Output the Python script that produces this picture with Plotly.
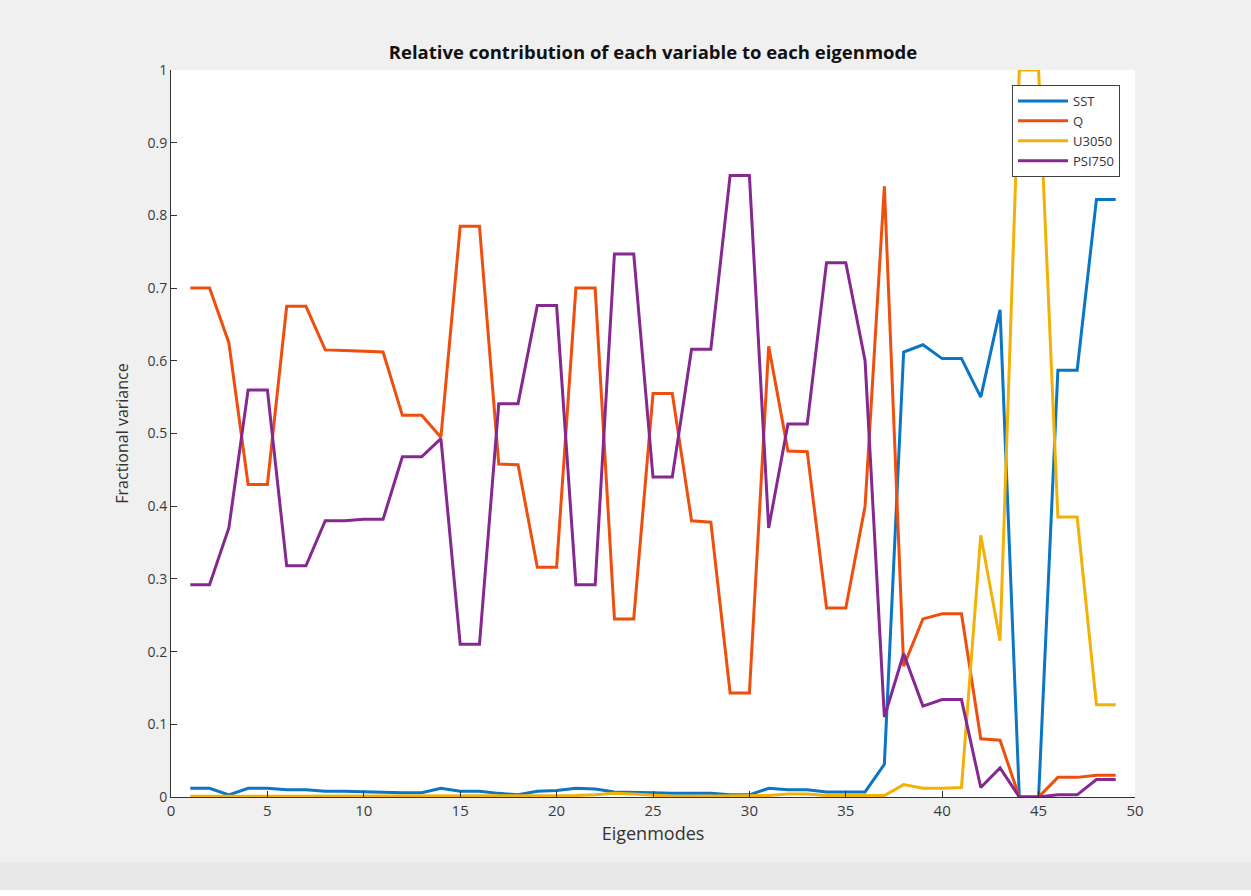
import plotly.graph_objects as go

# Eigenmode index
modes = list(range(1, 50))

# Fractional variance carried by each variable in each eigenmode
sst = [0.012, 0.012, 0.003, 0.012, 0.012, 0.010, 0.010, 0.008, 0.008, 0.007,
       0.006, 0.006, 0.006, 0.012, 0.008, 0.008, 0.005, 0.003, 0.008, 0.009,
       0.012, 0.011, 0.007, 0.007, 0.006, 0.005, 0.005, 0.005, 0.003, 0.003,
       0.012, 0.010, 0.010, 0.007, 0.007, 0.007, 0.045, 0.612, 0.622, 0.603,
       0.603, 0.550, 0.670, 0.000, 0.000, 0.587, 0.587, 0.822, 0.822]

q = [0.700, 0.700, 0.625, 0.430, 0.430, 0.675, 0.675, 0.615, 0.614, 0.613,
     0.612, 0.525, 0.525, 0.495, 0.785, 0.785, 0.458, 0.457, 0.316, 0.316,
     0.700, 0.700, 0.245, 0.245, 0.555, 0.555, 0.380, 0.378, 0.143, 0.143,
     0.620, 0.476, 0.475, 0.260, 0.260, 0.400, 0.840, 0.180, 0.245, 0.252,
     0.252, 0.080, 0.078, 0.000, 0.000, 0.027, 0.027, 0.030, 0.030]

u3050 = [0.001, 0.001, 0.001, 0.001, 0.001, 0.001, 0.001, 0.001, 0.001, 0.001,
         0.001, 0.001, 0.001, 0.001, 0.001, 0.001, 0.001, 0.001, 0.001, 0.001,
         0.002, 0.003, 0.005, 0.004, 0.002, 0.001, 0.001, 0.001, 0.001, 0.001,
         0.002, 0.004, 0.004, 0.002, 0.002, 0.002, 0.002, 0.017, 0.012, 0.012,
         0.013, 0.360, 0.215, 1.000, 1.000, 0.385, 0.385, 0.127, 0.127]

psi750 = [0.292, 0.292, 0.370, 0.560, 0.560, 0.318, 0.318, 0.380, 0.380, 0.382,
          0.382, 0.468, 0.468, 0.493, 0.210, 0.210, 0.541, 0.541, 0.676, 0.676,
          0.292, 0.292, 0.747, 0.747, 0.440, 0.440, 0.616, 0.616, 0.855, 0.855,
          0.370, 0.513, 0.513, 0.735, 0.735, 0.600, 0.110, 0.197, 0.125, 0.134,
          0.134, 0.013, 0.040, 0.000, 0.000, 0.003, 0.003, 0.024, 0.024]

series = [
    ("SST", sst, "#0A76C4"),
    ("Q", q, "#EE4E0E"),
    ("U3050", u3050, "#F2B106"),
    ("PSI750", psi750, "#85288F"),
]

x_ticks = list(range(0, 51, 5))
y_ticks = [round(0.1 * i, 1) for i in range(11)]
y_labels = ["0"] + [f"{v:g}" for v in y_ticks[1:-1]] + ["1"]

fig = go.Figure()
for name, vals, color in series:
    fig.add_trace(go.Scatter(
        x=modes, y=vals, name=name, mode="lines",
        line=dict(color=color, width=3),
    ))

font_family = "Open Sans, Noto Sans, DejaVu Sans, sans-serif"

fig.update_layout(
    width=1251, height=896,
    margin=dict(l=171, r=116, t=70, b=99),
    paper_bgcolor="#f0f0f0",
    plot_bgcolor="#ffffff",
    font=dict(family=font_family, size=14, color="#333333"),
    title=dict(
        text="<b>Relative contribution of each variable to each eigenmode</b>",
        x=(171 + 1135) / 2 / 1251, xanchor="center",
        y=1 - 53 / 896, yanchor="middle",
        font=dict(size=18.5, color="#111111"),
    ),
    xaxis=dict(
        range=[0, 50], tickvals=x_ticks, ticktext=[str(t) for t in x_ticks],
        showgrid=False, zeroline=False,
        showline=True, linecolor="#333333", linewidth=1,
        ticks="inside", ticklen=6, tickcolor="#333333",
        tickfont=dict(size=15, color="#3a3a3a"),
        title=dict(text="Eigenmodes", font=dict(size=18, color="#333333"), standoff=8),
    ),
    yaxis=dict(
        range=[0, 1], tickvals=y_ticks, ticktext=y_labels,
        showgrid=False, zeroline=False,
        showline=True, linecolor="#333333", linewidth=1,
        ticks="inside", ticklen=6, tickcolor="#333333",
        tickfont=dict(size=14, color="#3a3a3a"),
        title=dict(text="Fractional variance", font=dict(size=16, color="#333333"), standoff=14),
    ),
    legend=dict(
        x=(1120 - 171) / (1135 - 171), xanchor="right",
        y=(797 - 85) / (797 - 70), yanchor="top",
        bgcolor="#ffffff", bordercolor="#404040", borderwidth=1,
        font=dict(size=13, color="#333333"),
        itemwidth=50, tracegroupgap=0,
    ),
    shapes=[
        dict(type="rect", xref="paper", yref="paper",
             x0=-171 / 964, x1=1 + 116 / 964,
             y0=-99 / 727, y1=-(99 - 6) / 727,
             fillcolor="#ffffff", line=dict(width=0), layer="below"),
        dict(type="rect", xref="paper", yref="paper",
             x0=-171 / 964, x1=1 + 116 / 964,
             y0=-(99 - 6) / 727, y1=-(99 - 34) / 727,
             fillcolor="#e8e8e8", line=dict(width=0), layer="below"),
    ],
)

fig.write_html("out.html")
